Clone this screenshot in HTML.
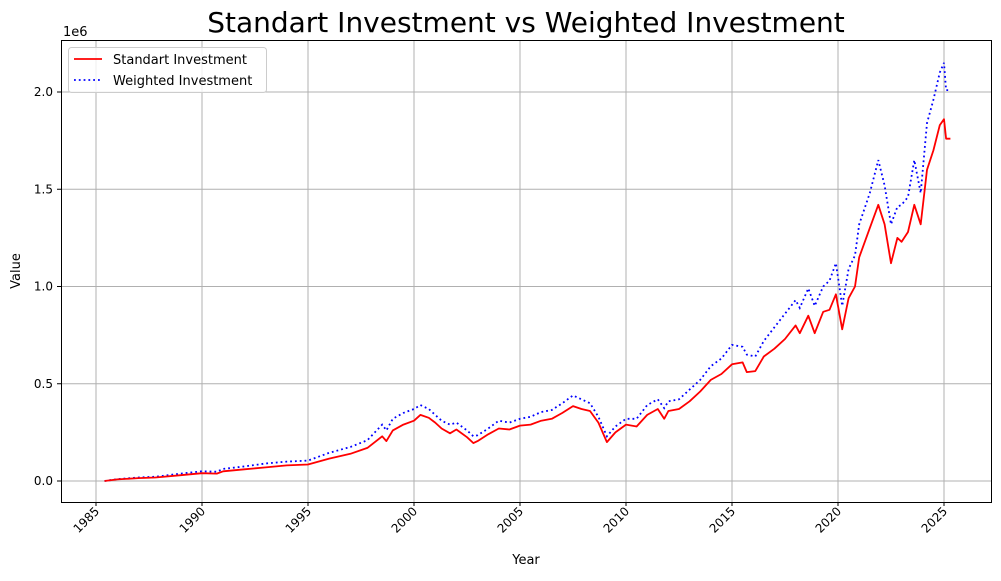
<!DOCTYPE html>
<html><head><meta charset="utf-8"><style>
body{margin:0;background:#fff;}
svg text{font-family:"DejaVu Sans","Liberation Sans",sans-serif;fill:#000;}
</style></head><body>
<svg id="chart" width="1001" height="576" xmlns="http://www.w3.org/2000/svg">
<rect width="1001" height="576" fill="#fff"/>
<text x="526" y="32" font-size="28" text-anchor="middle">Standart Investment vs Weighted Investment</text>
<g id="grid"></g>
<g id="series"></g>
<rect x="61.5" y="40.5" width="930" height="462" fill="none" stroke="#000" stroke-width="1"/>
<g id="axes"></g>
<text x="63" y="36" font-size="13">1e6</text>
<text x="526" y="564" font-size="13" text-anchor="middle">Year</text>
<text transform="translate(20,271) rotate(-90)" font-size="13" text-anchor="middle">Value</text>
<g>
<rect x="68.5" y="47.5" width="198" height="45" rx="3" fill="#fff" fill-opacity="0.8" stroke="#ccc"/>
<line x1="74" y1="59" x2="102" y2="59" stroke="red" stroke-width="1.8"/>
<text x="113" y="64" font-size="13">Standart Investment</text>
<line x1="74" y1="80" x2="102" y2="80" stroke="blue" stroke-width="1.8" stroke-dasharray="1.8,3"/>
<text x="113" y="85" font-size="13">Weighted Investment</text>
</g>
</svg>
<script>
const years=[1985.4,1986,1987,1987.8,1988,1989,1990,1990.7,1991,1992,1993,1994,1995,1996,1997,1997.8,1998.5,1998.7,1999,1999.5,2000,2000.3,2000.7,2001,2001.3,2001.7,2002,2002.5,2002.8,2003,2003.5,2004,2004.5,2005,2005.5,2006,2006.5,2007,2007.5,2007.9,2008.3,2008.7,2009.1,2009.5,2010,2010.5,2011,2011.5,2011.8,2012,2012.5,2013,2013.5,2014,2014.5,2015,2015.5,2015.7,2016.1,2016.5,2017,2017.5,2018,2018.2,2018.6,2018.9,2019.3,2019.6,2019.9,2020.2,2020.5,2020.8,2021,2021.5,2021.9,2022.2,2022.5,2022.8,2023,2023.3,2023.6,2023.9,2024.2,2024.5,2024.8,2025.0,2025.1,2025.3];
const standart=[0,8,15,18,20,30,40,38,50,60,70,80,85,115,140,170,230,205,260,290,310,340,325,300,270,245,265,225,195,205,240,270,265,285,290,310,320,350,385,370,360,300,200,250,290,280,340,370,320,360,370,410,460,520,550,600,610,560,565,640,680,730,800,760,850,760,870,880,960,780,940,1000,1150,1300,1420,1320,1120,1250,1230,1280,1420,1320,1600,1700,1830,1860,1760,1760];
const weighted=[0,9,18,22,24,38,50,48,62,75,90,100,105,145,175,210,290,260,320,350,370,390,370,340,310,290,300,260,230,235,270,310,300,320,330,355,365,400,440,420,400,330,230,280,320,320,390,420,375,410,420,470,520,590,630,700,690,650,640,720,790,860,930,890,990,900,1000,1030,1120,900,1090,1160,1320,1480,1650,1520,1320,1410,1420,1460,1650,1480,1840,1960,2100,2150,2010,2010];
const xTicks=[1985,1990,1995,2000,2005,2010,2015,2020,2025];
const yTicks=[0,0.5,1.0,1.5,2.0];
const yTickLabels=["0.0","0.5","1.0","1.5","2.0"];
const X=y=>96+(y-1985)*21.2;
const Y=v=>481-v/1000*194.5;
const NS="http://www.w3.org/2000/svg";
const grid=document.getElementById('grid'),axes=document.getElementById('axes'),ser=document.getElementById('series');
function mk(tag,attrs,parent){const e=document.createElementNS(NS,tag);for(const k in attrs)e.setAttribute(k,attrs[k]);parent.appendChild(e);return e;}
xTicks.forEach(t=>{const x=X(t);
 const g=mk('line',{x1:x,x2:x,y1:40,y2:502,stroke:'#b0b0b0','stroke-width':1},grid);
 
 
 mk('line',{x1:x,x2:x,y1:502,y2:506,stroke:'#000'},axes);
 const tx=mk('text',{x:0,y:0,'font-size':12,'text-anchor':'end',transform:`translate(${x+4},${512}) rotate(-45)`},axes);
 tx.textContent=t;
 
 
});
yTicks.forEach((t,i)=>{const y=Y(t*1000);
 const g=mk('line',{x1:61,x2:991,y1:y,y2:y,stroke:'#b0b0b0','stroke-width':1},grid);
 
 
 mk('line',{x1:57,x2:61,y1:y,y2:y,stroke:'#000'},axes);
 const tx=mk('text',{x:53,y:y+4,'font-size':12,'text-anchor':'end'},axes);
 tx.textContent=yTickLabels[i];
 
 
});
function path(vals){return vals.map((v,i)=>(i?'L':'M')+X(years[i]).toFixed(1)+','+Y(v).toFixed(1)).join('');}
const pw=mk('path',{d:path(weighted),fill:'none',stroke:'blue','stroke-width':1.8,'stroke-dasharray':'1.8,3'},ser);


const ps=mk('path',{d:path(standart),fill:'none',stroke:'red','stroke-width':1.8,'stroke-linejoin':'round'},ser);


</script>
</body></html>
